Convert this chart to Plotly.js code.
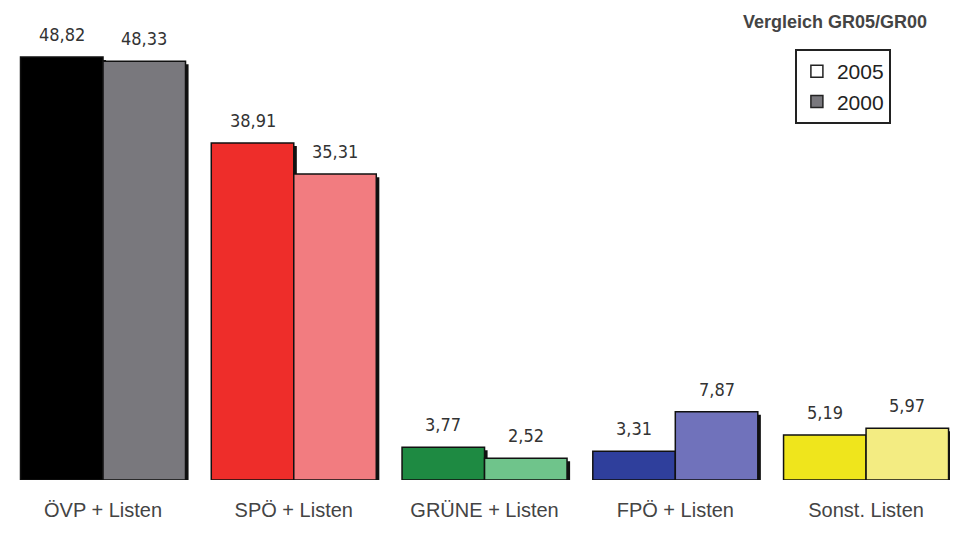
<!DOCTYPE html>
<html><head><meta charset="utf-8">
<script src="https://cdn.plot.ly/plotly-3.0.1.min.js"></script>
<style>html,body{margin:0;padding:0;background:#fff}</style>
</head><body>
<div id="chart" style="width:956px;height:534px"></div>
<script>
const categories = ['ÖVP + Listen', 'SPÖ + Listen', 'GRÜNE + Listen', 'FPÖ + Listen', 'Sonst. Listen'];
const values2005 = [48.82, 38.91, 3.77, 3.31, 5.19];
const values2000 = [48.33, 35.31, 2.52, 7.87, 5.97];
const colors2005 = ['#000000', '#ee2d2a', '#1e8a42', '#2f3f9c', '#efe51c'];
const colors2000 = ['#79787d', '#f27c80', '#6fc48b', '#7072bb', '#f3ec82'];
const seriesNames = ['2005', '2000'];
const chartNote = 'Vergleich GR05/GR00';

const xs = categories.map((_, i) => i);
const W = 0.4325;
const SH = 0.016;
const fmt = v => v.toFixed(2).replace('.', ',');

function shadow(vals, off) {
  return {type: 'bar', x: xs, y: vals.map(v => v - 0.35), offset: off + SH, width: W,
    marker: {color: '#111', line: {width: 0}}, showlegend: false, hoverinfo: 'skip'};
}
const traces = [
  shadow(values2005, -W),
  {type: 'bar', x: xs, y: values2005, offset: -W, width: W, name: seriesNames[0], showlegend: false,
    marker: {color: colors2005, line: {color: '#111', width: 1.5}}},
  shadow(values2000, 0),
  {type: 'bar', x: xs, y: values2000, offset: 0, width: W, name: seriesNames[1], showlegend: false,
    marker: {color: colors2000, line: {color: '#111', width: 1.5}}},
  {type: 'bar', x: [null], y: [null], name: seriesNames[0], marker: {color: '#ffffff', line: {color: '#222', width: 1.5}}},
  {type: 'bar', x: [null], y: [null], name: seriesNames[1], marker: {color: '#79787d', line: {color: '#222', width: 1.5}}}
];

const labelFont = {family: 'DejaVu Sans Condensed', size: 18, color: '#333'};
const annotations = [];
values2005.forEach((v, i) => annotations.push({x: i - W / 2, y: v, xref: 'x', yref: 'y', text: fmt(v),
  showarrow: false, yanchor: 'bottom', yshift: 10, font: labelFont}));
values2000.forEach((v, i) => annotations.push({x: i + W / 2, y: v, xref: 'x', yref: 'y', text: fmt(v),
  showarrow: false, yanchor: 'bottom', yshift: 10, font: labelFont}));
annotations.push({x: 0.878, y: 0.996, xref: 'paper', yref: 'paper', text: chartNote, showarrow: false,
  xanchor: 'center', yanchor: 'middle', font: {family: 'Liberation Sans', size: 18, color: '#444', weight: 'bold'}});

const layout = {
  width: 956, height: 534,
  margin: {l: 10, r: 6, t: 20, b: 54},
  paper_bgcolor: '#ffffff', plot_bgcolor: '#ffffff',
  barmode: 'overlay',
  showlegend: true,
  legend: {x: 0.835, y: 0.937, xanchor: 'left', yanchor: 'top', bordercolor: '#222', borderwidth: 2,
    bgcolor: '#ffffff', font: {family: 'Liberation Sans', size: 21, color: '#222'}, tracegroupgap: 0},
  xaxis: {range: [-0.4876, 4.44], tickvals: xs, ticktext: categories, showgrid: false, zeroline: false,
    showline: false, ticks: 'outside', ticklen: 12, tickcolor: 'rgba(0,0,0,0)',
    tickfont: {family: 'Liberation Sans', size: 20, color: '#444'}, fixedrange: true},
  yaxis: {range: [0, 53.1], visible: false, showgrid: false, zeroline: false, fixedrange: true},
  annotations: annotations
};
Plotly.newPlot('chart', traces, layout, {displayModeBar: false, staticPlot: true});
</script>
</body></html>
